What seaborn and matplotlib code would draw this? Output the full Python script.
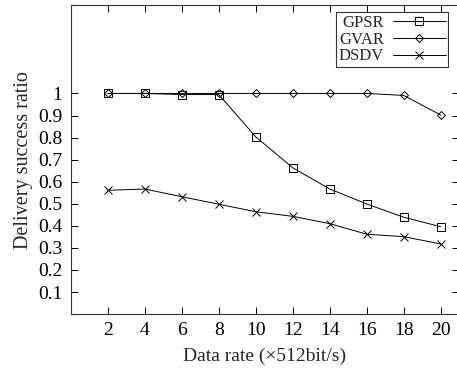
import numpy as np
import pandas as pd
import matplotlib
matplotlib.use("Agg")
import matplotlib.pyplot as plt
import seaborn as sns

# Data
data_rate = [2, 4, 6, 8, 10, 12, 14, 16, 18, 20]
gpsr = [1.0, 1.0, 0.995, 0.995, 0.803, 0.663, 0.567, 0.499, 0.439, 0.396]
gvar = [1.0, 1.0, 1.0, 1.0, 1.0, 1.0, 1.0, 1.0, 0.991, 0.902]
dsdv = [0.561, 0.567, 0.532, 0.498, 0.464, 0.443, 0.410, 0.362, 0.351, 0.318]
y_ticks = [0.1, 0.2, 0.3, 0.4, 0.5, 0.6, 0.7, 0.8, 0.9, 1]
y_tick_labels = ["0.1", "0.2", "0.3", "0.4", "0.5", "0.6", "0.7", "0.8", "0.9", "1"]

sns.set_style("ticks")
plt.rcParams["font.family"] = ["Liberation Serif", "DejaVu Serif"]

fig = plt.figure(figsize=(4.57, 3.70), dpi=100)
ax = fig.add_axes([0.155, 0.151, 0.85, 0.835])

series = {"GPSR": (gpsr, "s", 5.5), "GVAR": (gvar, "D", 4.0), "DSDV": (dsdv, "x", 5.5)}
for name, (vals, mk, ms) in series.items():
    sns.lineplot(x=data_rate, y=vals, ax=ax, color="black", linewidth=0.7, marker=mk,
                 markersize=ms, markerfacecolor="none", markeredgecolor="black",
                 markeredgewidth=0.7, label=name)

ax.set_xlim(0, 21)
ax.set_ylim(0, 1.4)
ax.set_xticks(data_rate)
ax.set_yticks(y_ticks)
ax.set_yticklabels(y_tick_labels)
ax.tick_params(direction="in", length=5, width=0.7, labelsize=14, top=True, right=True,
               colors="black", pad=6)
for sp in ax.spines.values():
    sp.set_linewidth(0.8)
    sp.set_color("#333333")

ax.set_xlabel("Data rate (×512bit/s)", fontsize=14, labelpad=6)
ax.set_ylabel("Delivery success ratio", fontsize=14.5, labelpad=4)

leg = ax.legend(loc="upper right", bbox_to_anchor=(0.972, 0.977), markerfirst=False,
                fancybox=False, frameon=True, fontsize=12, handlelength=3.2,
                borderpad=0.15, labelspacing=0.05, handletextpad=0.5, borderaxespad=0)
leg.get_frame().set_edgecolor("black")
leg.get_frame().set_linewidth(0.8)

fig.savefig("out.png", dpi=100)
